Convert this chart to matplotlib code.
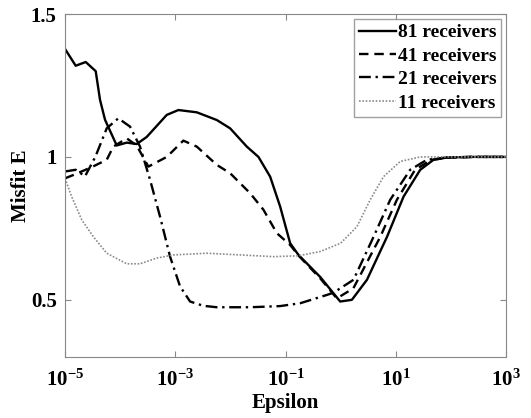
import matplotlib.pyplot as plt
import numpy as np

plt.rcParams["font.family"] = ["Liberation Serif", "DejaVu Serif"]
plt.rcParams["font.weight"] = "bold"
plt.rcParams["mathtext.fontset"] = "custom"
plt.rcParams["mathtext.rm"] = "Liberation Serif:bold"
plt.rcParams["mathtext.bf"] = "Liberation Serif:bold"
plt.rcParams["mathtext.it"] = "Liberation Serif:bold"
plt.rcParams["mathtext.default"] = "bf"

# log10(epsilon) and misfit values
x81 = [-5, -4.806, -4.624, -4.443, -4.365, -4.274, -4.062, -3.88, -3.699, -3.517,
       -3.154, -2.943, -2.609, -2.246, -2.005, -1.702, -1.491, -1.279, -1.097,
       -0.916, -0.765, -0.371, -0.008, 0.204, 0.477, 0.84, 1.141, 1.444, 1.685,
       1.929, 2.4, 3]
y81 = [1.378, 1.319, 1.332, 1.30, 1.20, 1.13, 1.04, 1.05, 1.045, 1.07,
       1.147, 1.164, 1.156, 1.129, 1.10, 1.036, 1.0, 0.931, 0.826,
       0.698, 0.657, 0.58, 0.494, 0.50, 0.57, 0.72, 0.861, 0.955, 0.99,
       0.998, 1.0, 1.0]

x41 = [-5, -4.806, -4.486, -4.243, -4.123, -3.88, -3.70, -3.488, -3.154,
       -2.853, -2.609, -2.246, -2.005, -1.642, -1.40, -1.157, -0.916, -0.765,
       -0.37, -0.07, 0.23, 0.718, 1.02, 1.35, 1.65, 2.0, 2.4, 3]
y41 = [0.925, 0.94, 0.967, 0.99, 1.036, 1.065, 1.04, 0.966, 1.0,
       1.057, 1.036, 0.972, 0.943, 0.873, 0.815, 0.733, 0.692, 0.655,
       0.575, 0.505, 0.54, 0.72, 0.85, 0.955, 0.99, 0.998, 1.0, 1.0]

x21 = [-5, -4.806, -4.637, -4.45, -4.243, -4.033, -3.82, -3.639, -3.457,
       -3.276, -3.094, -2.913, -2.731, -2.49, -2.246, -1.64, -1.10, -0.734,
       -0.25, -0.13, 0.233, 0.596, 0.899, 1.262, 1.566, 1.93, 2.4, 3]
y21 = [0.949, 0.955, 0.932, 1.0, 1.10, 1.135, 1.106, 1.036, 0.92,
       0.791, 0.651, 0.547, 0.494, 0.479, 0.474, 0.474, 0.478, 0.488,
       0.517, 0.525, 0.57, 0.72, 0.85, 0.955, 0.99, 0.998, 1.0, 1.0]

x11 = [-5, -4.879, -4.697, -4.486, -4.243, -3.88, -3.639, -3.336, -3.033,
       -2.43, -1.82, -1.22, -0.765, -0.371, 0.0, 0.295, 0.536, 0.778, 1.081,
       1.444, 2.0, 3]
y11 = [0.925, 0.861, 0.78, 0.721, 0.663, 0.626, 0.626, 0.646, 0.657,
       0.663, 0.657, 0.651, 0.654, 0.669, 0.698, 0.756, 0.85, 0.931, 0.984,
       1.0, 1.0, 1.0]

fig = plt.figure(figsize=(5.31, 4.18), dpi=100)
ax = fig.add_axes([0.1224, 0.146, 0.8306, 0.8205])

ax.plot(10 ** np.array(x81), y81, color="black", lw=1.7, ls="-", label="81 receivers")
ax.plot(10 ** np.array(x41), y41, color="black", lw=1.7, ls=(0, (4, 2.5)), label="41 receivers")
ax.plot(10 ** np.array(x21), y21, color="black", lw=1.7, ls=(0, (5, 2, 1, 2)), label="21 receivers")
ax.plot(10 ** np.array(x11), y11, color="#8a8a8a", lw=1.2, ls=(0, (1, 1)), label="11 receivers")

ax.set_xscale("log")
ax.set_xlim(1e-5, 1e3)
ax.set_ylim(0.3, 1.5)
ax.set_xticks([1e-5, 1e-3, 1e-1, 1e1, 1e3])
ax.set_xticklabels([r"$10^{-5}$", r"$10^{-3}$", r"$10^{-1}$", r"$10^{1}$", r"$10^{3}$"])
ax.minorticks_off()
ax.set_yticks([0.5, 1, 1.5])
ax.set_yticklabels(["0.5", "1", "1.5"])
ax.tick_params(direction="in", top=True, right=True, length=4, color="#888888",
               labelsize=15)
ax.tick_params(axis="x", pad=9)
ax.tick_params(axis="y", pad=6)
for s in ax.spines.values():
    s.set_color("#888888")

ax.set_xlabel("Epsilon", fontsize=15, fontweight="bold", labelpad=2)
ax.set_ylabel("Misfit E", fontsize=15, fontweight="bold", labelpad=0)

leg = ax.legend(loc="upper right", fontsize=14, frameon=True, fancybox=False,
                handlelength=1.9, handletextpad=0.1, borderpad=0.25,
                labelspacing=0.3, borderaxespad=0.25)
leg.get_frame().set_edgecolor("#888888")
leg.get_frame().set_linewidth(1.0)
for t in leg.get_texts():
    t.set_fontweight("bold")

plt.savefig("out.png", dpi=100)
